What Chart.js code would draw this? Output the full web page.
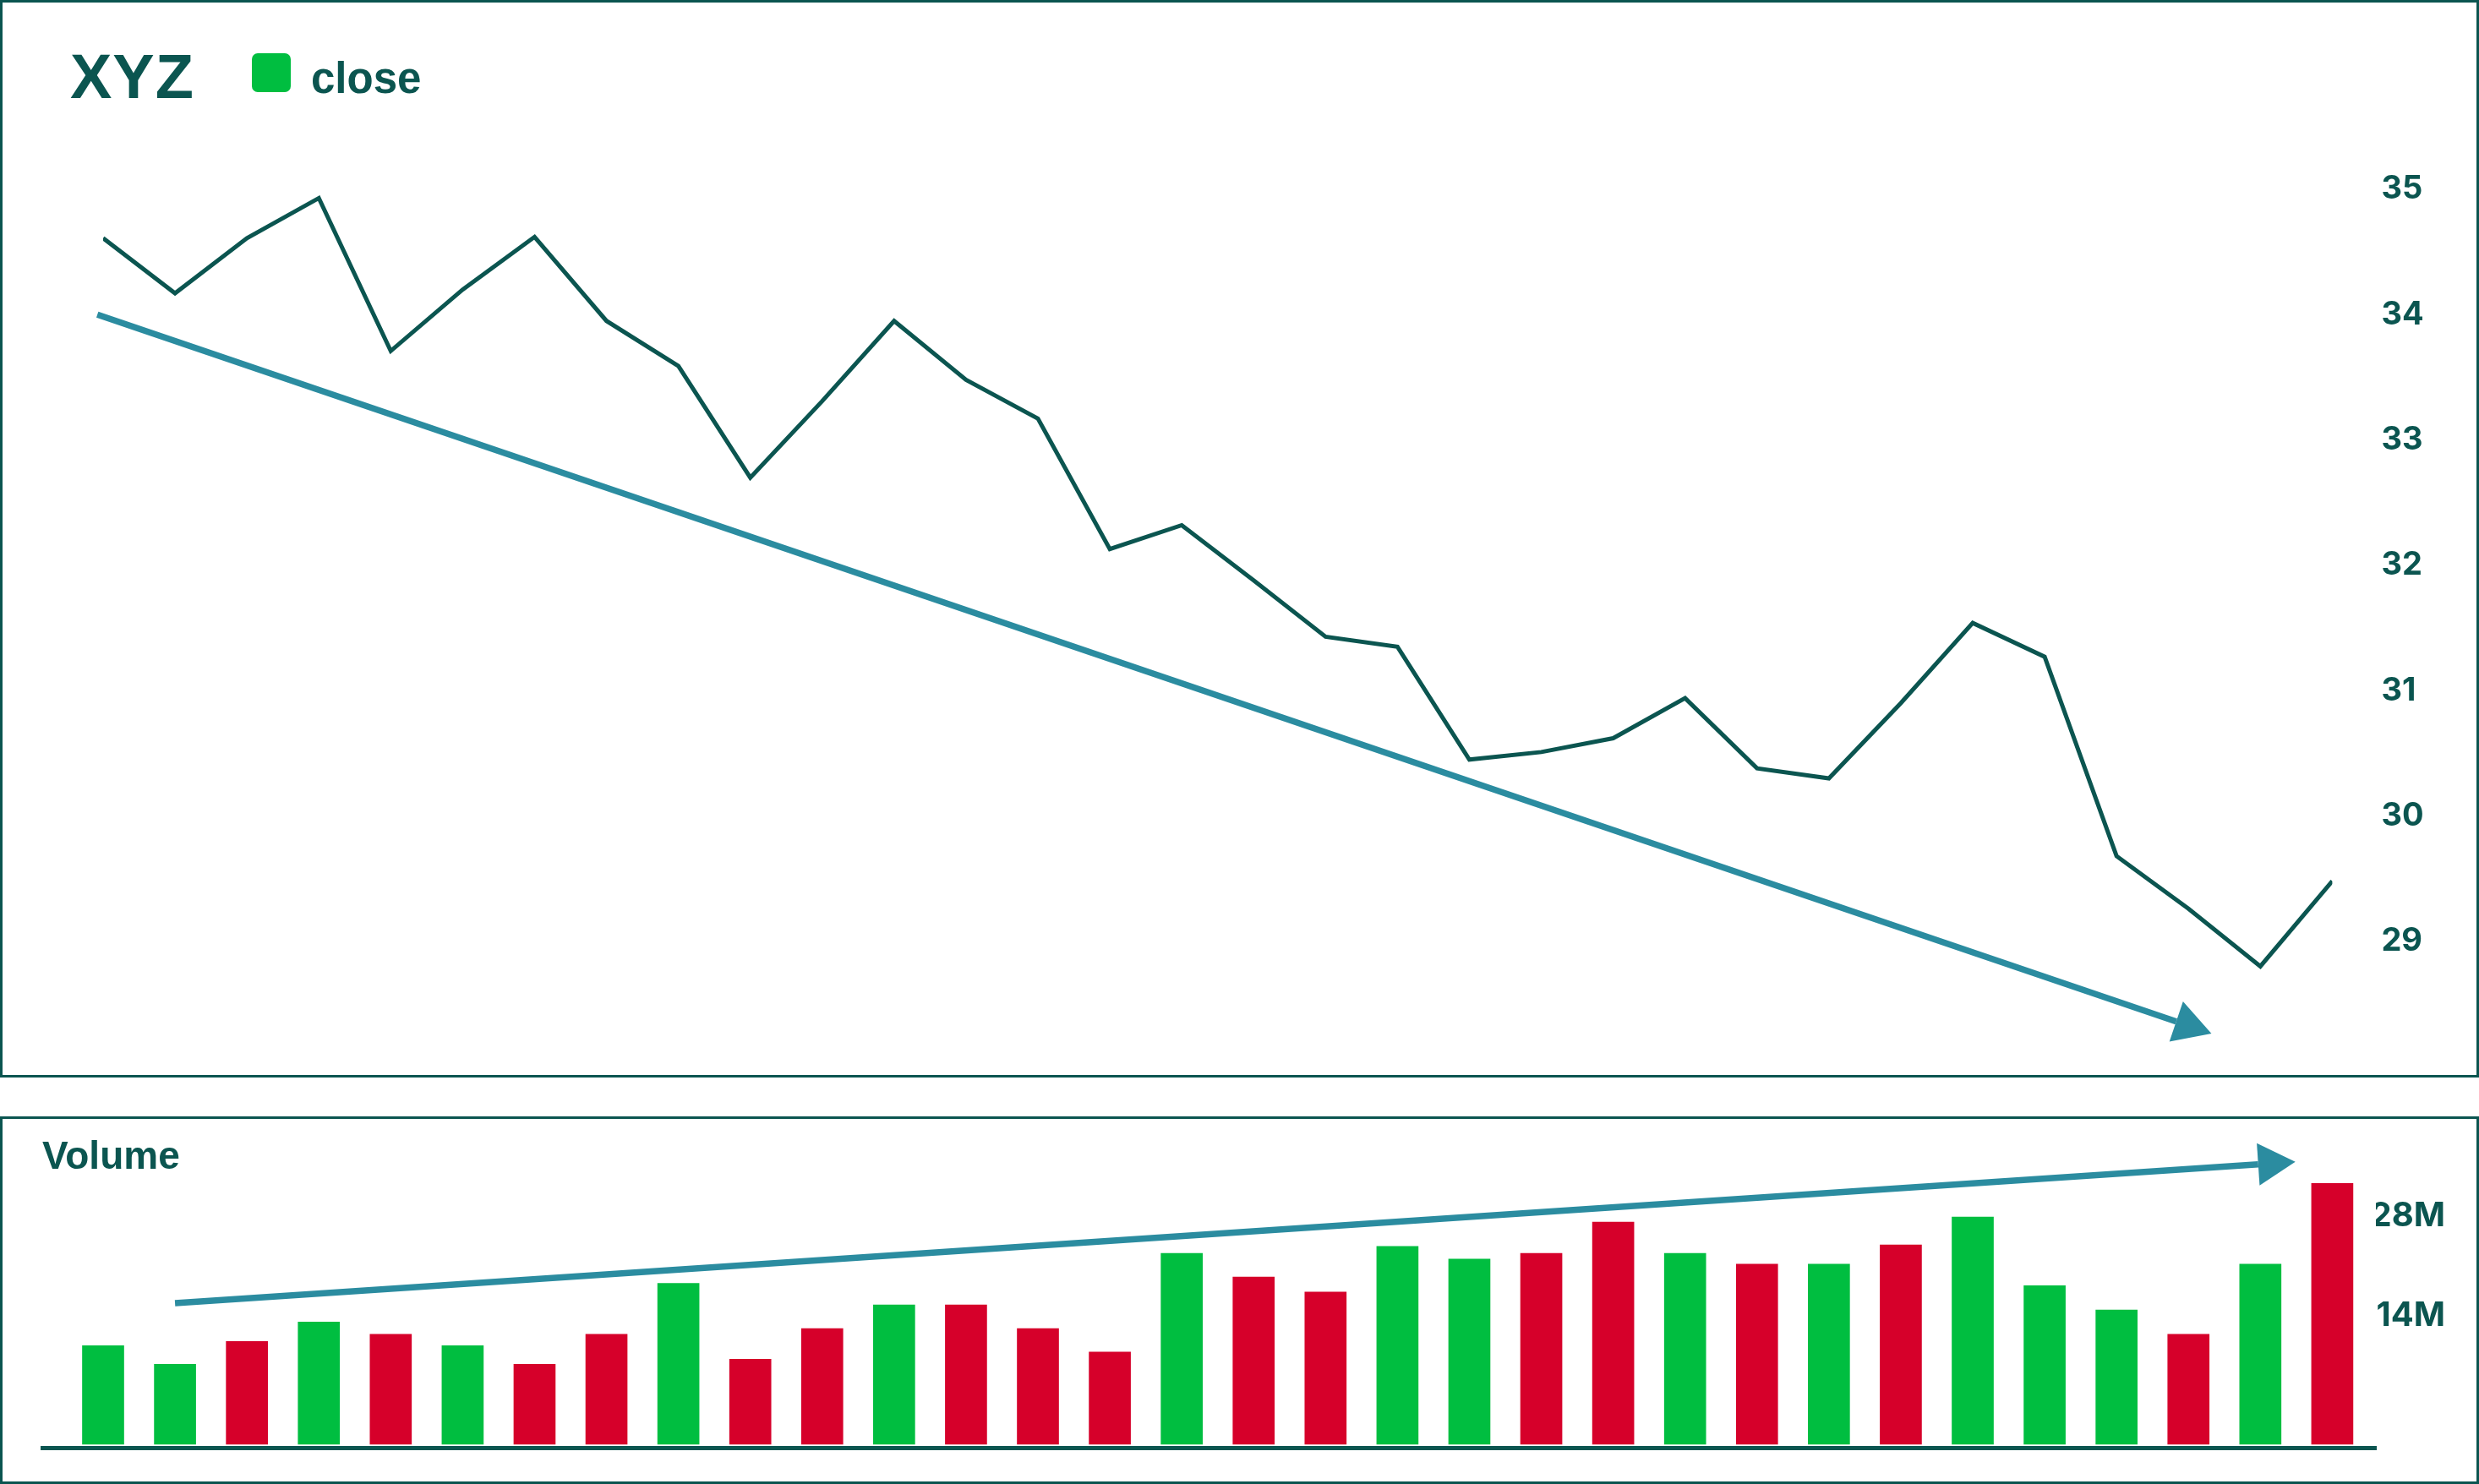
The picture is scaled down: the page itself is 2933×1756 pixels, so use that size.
<!DOCTYPE html>
<html>
<head>
<meta charset="utf-8">
<title>XYZ close and volume</title>
<script src="https://cdn.jsdelivr.net/npm/chart.js@4.4.1/dist/chart.umd.min.js"></script>
<style>
  html, body { margin: 0; padding: 0; background: #fff; }
  body { width: 2933px; height: 1756px; position: relative; overflow: hidden; }
  .panel { position: absolute; left: 0; width: 2933px; box-sizing: border-box; border: 3px solid #0b5550; }
  #price-panel { top: 0; height: 1275px; }
  #volume-panel { top: 1321px; height: 435px; }
  canvas { position: absolute; left: 0; }
  #price-chart { top: 0; }
  #volume-chart { top: 1321px; }
  .chart-title {
    position: absolute; left: 83px; top: 54px; margin: 0; letter-spacing: 1px;
    font: 700 74px/1 "Liberation Sans", Arial, sans-serif; color: #0b5550;
  }
  #price-legend { position: absolute; left: 298px; top: 63px; display: flex; align-items: flex-start; }
  .legend-box { width: 46px; height: 46px; border-radius: 7px; }
  .legend-text { margin-left: 24px; margin-top: 4px; font: 700 51px/1 "Liberation Sans", Arial, sans-serif; color: #0b5550; }
</style>
</head>
<body>
<div class="panel" id="price-panel"></div>
<div class="panel" id="volume-panel"></div>
<canvas id="price-chart" width="2933" height="1275"></canvas>
<canvas id="volume-chart" width="2933" height="435"></canvas>
<h1 class="chart-title">XYZ</h1>
<div id="price-legend"></div>

<script>
// --- Data ---
const closes = [
  34.61, 34.17, 34.61, 34.93, 33.71, 34.20, 34.62, 33.95,
  33.59, 32.70, 33.31, 33.95, 33.48, 33.17, 32.13, 32.32,
  31.88, 31.43, 31.35, 30.45, 30.51, 30.62, 30.94, 30.38,
  30.30, 30.90, 31.54, 31.27, 29.68, 29.26, 28.80, 29.48
];
// volume in millions of shares
const volumes = [
  13.8, 11.2, 14.4, 17.1, 15.4, 13.8, 11.2, 15.4,
  22.5, 11.9, 16.2, 19.5, 19.5, 16.2, 12.9, 26.7,
  23.4, 21.3, 27.7, 25.9, 26.7, 31.1, 26.7, 25.2,
  25.2, 27.9, 31.8, 22.2, 18.8, 15.4, 25.2, 36.5
];
const volumeSide = [
  'up', 'up', 'down', 'up', 'down', 'up', 'down', 'down',
  'up', 'down', 'down', 'up', 'down', 'down', 'down', 'up',
  'down', 'down', 'up', 'up', 'down', 'down', 'up', 'down',
  'up', 'down', 'up', 'up', 'up', 'down', 'up', 'down'
];
const priceTicks = [29, 30, 31, 32, 33, 34, 35];
const volumeTicks = [14, 28];
// trend arrows, in data units (session index, value)
const priceTrend = [{ x: -0.08, y: 34.0 }, { x: 28.83, y: 28.36 }];
const volumeTrend = [{ x: 1, y: 19.75 }, { x: 29.97, y: 39.16 }];

const DARK = '#0b5550';
const GREEN = '#00be40';
const RED = '#d6002a';
const TEAL = '#2b8ca0';

// draws a filled triangle at the end of any dataset flagged with arrow: true
const arrowHeads = {
  id: 'arrowHeads',
  afterDatasetsDraw(chart) {
    const ctx = chart.ctx;
    chart.data.datasets.forEach((ds, i) => {
      if (!ds.arrow) return;
      const pts = chart.getDatasetMeta(i).data;
      const a = pts[pts.length - 2];
      const b = pts[pts.length - 1];
      const ang = Math.atan2(b.y - a.y, b.x - a.x);
      ctx.save();
      ctx.translate(b.x, b.y);
      ctx.rotate(ang);
      ctx.beginPath();
      ctx.moveTo(44, 0);
      ctx.lineTo(0, -25);
      ctx.lineTo(0, 25);
      ctx.closePath();
      ctx.fillStyle = ds.borderColor;
      ctx.fill();
      ctx.restore();
    });
  }
};

// --- Price chart ---
const priceChart = new Chart(document.getElementById('price-chart'), {
  type: 'line',
  data: {
    datasets: [
      {
        label: 'close',
        data: closes.map((y, x) => ({ x, y })),
        borderColor: DARK,
        backgroundColor: GREEN,
        borderWidth: 5,
        pointRadius: 0,
        tension: 0
      },
      {
        data: priceTrend,
        borderColor: TEAL,
        borderWidth: 7.5,
        pointRadius: 0,
        clip: false,
        arrow: true
      }
    ]
  },
  options: {
    responsive: false,
    animation: false,
    events: [],
    layout: { padding: { left: 122, right: 0, top: 149.85, bottom: 12.9 } },
    plugins: { legend: { display: false }, tooltip: { enabled: false } },
    scales: {
      x: { type: 'linear', display: false, min: 0, max: 31 },
      y: {
        position: 'right',
        min: 28,
        max: 35.5,
        grid: { display: false, drawTicks: false },
        border: { display: false },
        afterBuildTicks: axis => { axis.ticks = priceTicks.map(value => ({ value })); },
        afterFit: axis => { axis.width = 173.6; axis.paddingTop = 0; axis.paddingBottom = 0; },
        ticks: { padding: 58, color: DARK, font: { family: 'Inter', size: 38, weight: 'bold' } }
      }
    }
  },
  plugins: [arrowHeads]
});

// html legend for the price chart
const legendEl = document.getElementById('price-legend');
priceChart.data.datasets.filter(ds => ds.label).forEach(ds => {
  const box = document.createElement('span');
  box.className = 'legend-box';
  box.style.background = ds.backgroundColor;
  const text = document.createElement('span');
  text.className = 'legend-text';
  text.textContent = ds.label;
  legendEl.appendChild(box);
  legendEl.appendChild(text);
});

// --- Volume chart ---
new Chart(document.getElementById('volume-chart'), {
  type: 'bar',
  data: {
    datasets: [
      {
        type: 'line',
        data: volumeTrend,
        borderColor: TEAL,
        borderWidth: 7.5,
        pointRadius: 0,
        clip: false,
        arrow: true
      },
      {
        label: 'Volume',
        data: volumes.map((y, x) => ({ x, y })),
        backgroundColor: volumeSide.map(s => s === 'up' ? GREEN : RED),
        barThickness: 49
      }
    ]
  },
  options: {
    responsive: false,
    animation: false,
    events: [],
    layout: { padding: { left: 50, right: 40, top: 0, bottom: 43 } },
    plugins: {
      legend: { display: false },
      tooltip: { enabled: false },
      title: {
        display: true,
        text: 'Volume',
        align: 'start',
        color: DARK,
        font: { family: 'Liberation Sans', size: 46, weight: 'bold' },
        padding: { top: 21.3, bottom: 0 }
      }
    },
    scales: {
      x: {
        type: 'linear',
        offset: false,
        min: -0.8463,
        max: 31.6065,
        grid: { display: false, drawTicks: false },
        ticks: { display: false },
        border: { display: true, color: DARK, width: 5 }
      },
      y: {
        position: 'right',
        min: -0.473,
        max: 36.83,
        grid: { display: false, drawTicks: false },
        border: { display: false },
        afterBuildTicks: axis => { axis.ticks = volumeTicks.map(value => ({ value })); },
        afterFit: axis => { axis.width = 82; axis.paddingTop = 0; axis.paddingBottom = 0; },
        ticks: {
          crossAlign: 'far',
          padding: 0,
          labelOffset: -33.6,
          color: DARK,
          font: { family: 'Inter', size: 40, weight: 'bold' },
          callback: v => v + 'M'
        }
      }
    }
  },
  plugins: [arrowHeads]
});
</script>
</body>
</html>
